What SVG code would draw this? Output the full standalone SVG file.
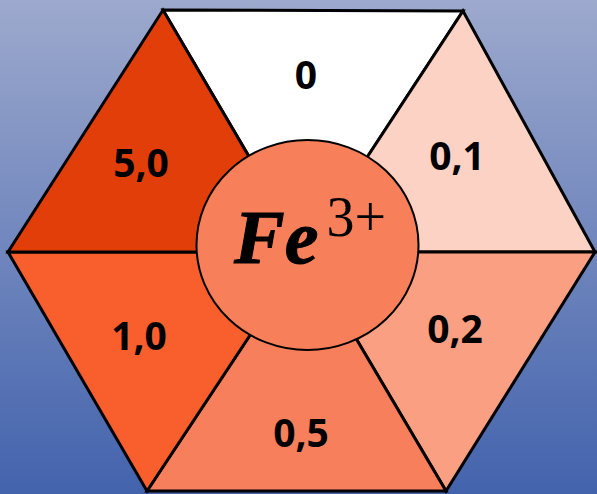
<svg xmlns="http://www.w3.org/2000/svg" width="597" height="494" viewBox="0 0 597 494">
<defs>
<linearGradient id="bg" x1="0" y1="0" x2="0" y2="1">
<stop offset="0" stop-color="#9DA9CD"/>
<stop offset="1" stop-color="#4363AD"/>
</linearGradient>
</defs>
<style>
.seg{stroke:#000;stroke-width:3;stroke-linejoin:miter}
.lbl{font-family:"Open Sans","Liberation Sans",sans-serif;font-weight:bold;font-size:39px;text-anchor:middle;fill:#000}
</style>
<rect width="597" height="494" fill="url(#bg)"/>
<g id="seg-top"><polygon class="seg" points="163,10 463,11 305,252" fill="#FFFFFF"/><text class="lbl" x="306" y="89">0</text></g>
<g id="seg-upper-right"><polygon class="seg" points="463,11 595,252 305,252" fill="#FCD2C5"/><text class="lbl" x="457" y="170">0,1</text></g>
<g id="seg-lower-right"><polygon class="seg" points="595,252 446,491 305,252" fill="#FA9F82"/><text class="lbl" x="455" y="343">0,2</text></g>
<g id="seg-bottom"><polygon class="seg" points="446,491 147,491 305,252" fill="#F87F5B"/><text class="lbl" x="301" y="447">0,5</text></g>
<g id="seg-lower-left"><polygon class="seg" points="147,491 8,252 305,252" fill="#F95F2D"/><text class="lbl" x="139" y="350">1,0</text></g>
<g id="seg-upper-left"><polygon class="seg" points="8,252 163,10 305,252" fill="#E23E0A"/><text class="lbl" x="141" y="177">5,0</text></g>
<g id="center">
<ellipse cx="307.5" cy="245" rx="111" ry="105" fill="#F77F5A" stroke="#000" stroke-width="2"/>
<text x="234" y="263" font-family="'Liberation Serif',serif" fill="#000"><tspan font-size="76" font-weight="bold" font-style="italic" stroke="#000" stroke-width="1">Fe</tspan><tspan font-size="56" dy="-27" dx="8">3+</tspan></text>
</g>
</svg>
